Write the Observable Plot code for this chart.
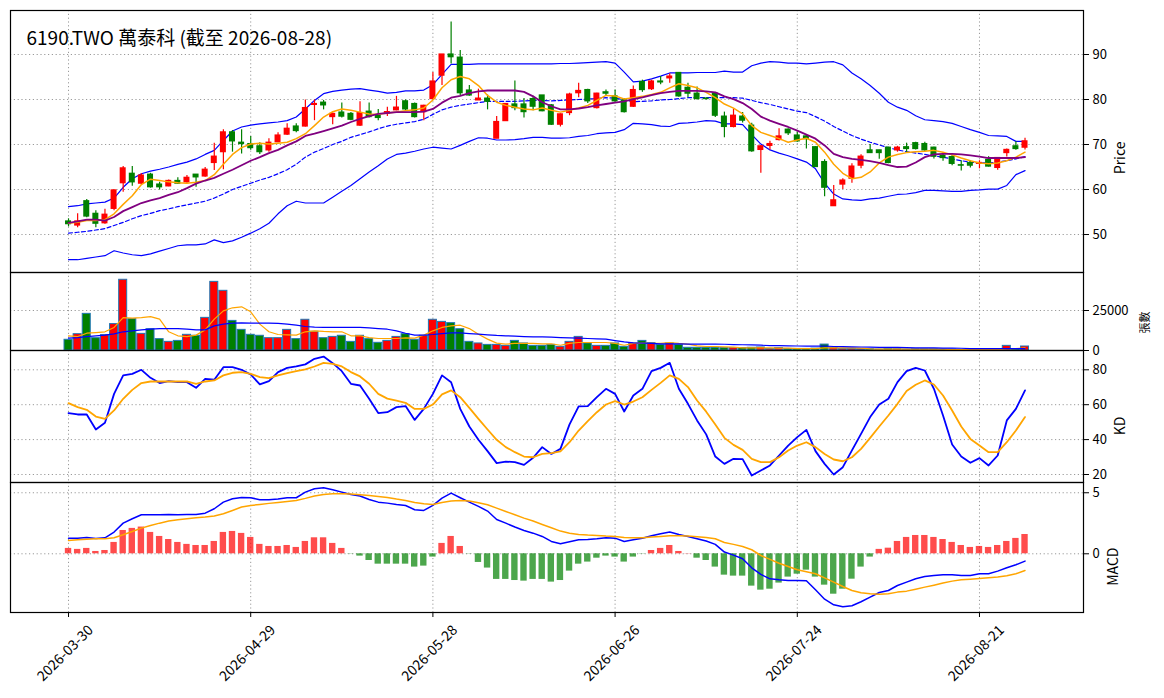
<!DOCTYPE html>
<html><head><meta charset="utf-8">
<script src="https://cdn.jsdelivr.net/npm/d3@7"></script>
<script src="https://cdn.jsdelivr.net/npm/@observablehq/plot@0.6"></script>
<style>
body{margin:0;background:#fff;}
#chart{position:relative;width:1164px;height:698px;background:#fff;}
#chart svg{position:absolute;left:0;overflow:visible;}
</style></head><body><div id="chart"></div>
<script>
// ---------- data ----------
const tickIdx = [0, 20, 40, 60, 80, 100];
const tickLabels = ["2026-03-30", "2026-04-29", "2026-05-28", "2026-06-26", "2026-07-24", "2026-08-21"];
const title = "6190.TWO 萬泰科 (截至 2026-08-28)";
const priceTicks = [50, 60, 70, 80, 90];
const volTicks = [0, 25000];
const kdTicks = [20, 40, 60, 80];
const macdTicks = [0, 5];

const open = [52.9,52.0,57.4,54.6,52.5,55.7,61.4,63.5,61.3,63.3, 61.1,60.7,61.9,61.6,63.3,62.9,65.9,68.3,72.7,70.4,
  70.1,69.6,68.7,70.5,72.2,74.0,74.0,78.8,79.3,76.1, 77.1,76.8,74.2,77.3,76.4,76.8,77.6,79.6,79.0,77.2,
  80.1,85.3,90.0,89.3,82.0,79.8,80.2,71.3,75.2,78.9, 78.9,80.1,80.9,78.7,74.4,77.0,81.4,82.1,78.1,81.6,
  80.7,79.8,78.4,83.9,82.3,84.0,84.7,85.9,82.6,81.3, 80.2,81.3,76.2,73.9,76.2,74.2,68.8,69.7,71.0,73.3,
  72.0,71.8,69.4,66.1,56.3,61.1,62.4,65.3,68.7,68.7, 69.3,68.7,69.4,70.3,70.1,69.3,67.5,67.2,65.4,65.9,
  65.7,66.6,64.8,68.1,69.6,69.3];
const high = [53.5,54.6,57.8,55.3,55.6,59.9,65.1,65.1,63.5,63.6, 61.6,62.1,62.6,63.1,63.3,64.9,70.3,73.3,73.1,73.3,
  71.8,70.4,71.3,72.6,74.6,74.6,79.9,79.9,79.8,77.0, 79.2,77.1,79.5,79.2,77.8,78.3,80.7,79.9,79.2,78.7,
  86.0,90.0,97.2,90.9,83.1,82.3,81.0,76.2,79.1,84.1, 80.2,80.7,80.9,78.9,76.8,81.4,83.6,82.3,81.4,82.1,
  82.1,80.2,83.0,84.3,84.3,85.1,85.7,86.0,83.6,82.8, 80.4,81.4,77.2,77.9,77.1,74.7,69.8,70.7,73.5,73.5,
  72.8,72.0,69.5,66.6,60.9,62.4,65.7,67.7,70.0,68.7, 69.4,69.6,70.3,70.5,70.5,69.4,68.1,67.6,66.4,66.4,
  66.4,67.3,67.1,69.0,70.6,71.4];
const low = [51.7,51.5,53.7,51.5,52.3,55.3,59.4,60.7,61.1,60.3, 59.9,60.6,61.1,61.4,60.5,62.7,64.2,64.4,68.3,67.9,
  68.7,67.8,68.3,70.4,72.0,72.6,73.9,75.3,77.7,74.4, 75.9,75.3,74.0,75.9,75.3,76.2,77.5,77.5,75.9,75.3,
  80.0,83.1,87.9,80.7,80.7,79.8,77.7,71.3,75.2,77.5, 75.9,77.5,77.3,74.2,73.9,76.4,80.4,79.1,77.9,80.8,
  79.4,77.0,78.2,81.6,82.0,83.3,83.6,80.5,80.4,79.9, 79.9,76.0,71.5,73.7,74.8,68.3,63.6,68.8,70.8,72.0,
  70.5,69.0,64.9,58.4,56.3,60.0,61.4,64.6,68.1,66.7, 65.7,68.3,68.1,68.8,68.5,66.8,66.3,65.3,64.1,64.8,
  64.6,65.0,64.3,67.2,68.7,68.8];
const close = [52.3,52.9,54.0,52.4,54.4,59.8,64.7,61.6,63.1,60.5, 60.5,61.9,61.3,62.6,62.7,64.4,67.3,72.7,70.7,70.1,
  69.2,68.3,70.4,72.0,73.5,73.0,78.1,79.0,78.7,76.8, 76.2,75.5,77.0,76.1,75.9,77.2,78.2,77.8,76.1,78.6,
  84.0,90.0,89.4,81.4,80.9,80.2,79.5,75.0,79.0,78.1, 77.2,78.4,77.4,74.4,76.7,81.1,81.9,79.6,81.3,81.3,
  79.6,77.2,82.1,82.1,84.0,83.8,85.1,80.7,81.3,80.1, 80.1,76.4,73.9,76.4,75.3,68.5,69.6,70.1,71.8,72.5,
  70.7,71.2,65.0,60.4,57.6,62.0,65.1,67.3,68.1,68.1, 65.9,69.3,69.0,69.0,68.7,67.3,67.0,65.7,65.3,65.3,
  65.9,65.1,67.0,68.8,69.0,70.7];
const bbUpper = [56.2,56.4,56.8,57.0,57.2,58.1,60.5,62.4,63.5,64.1, 64.5,65.0,65.6,66.1,66.8,67.8,68.7,70.9,73.0,73.9,
  74.3,74.6,74.8,75.0,75.3,76.1,77.9,79.8,81.3,81.8, 82.1,82.3,82.4,82.1,81.8,81.4,81.6,81.9,81.9,82.1,
  83.3,85.6,87.8,87.8,87.8,87.9,87.9,87.9,87.9,87.9, 87.9,87.9,87.9,87.9,88.0,88.0,88.1,88.2,88.3,88.4,
  88.1,86.1,83.9,84.1,84.6,85.2,85.9,85.9,85.9,86.0, 86.0,86.0,86.3,86.1,86.1,87.5,88.1,88.4,88.3,88.1,
  88.1,87.9,88.1,88.3,88.4,87.7,85.9,84.6,83.1,81.4, 79.4,78.3,77.6,76.4,75.5,75.3,75.1,74.7,74.0,73.3,
  72.7,72.0,71.9,71.8,70.7,70.7];
const bbMid = [50.3,50.5,50.7,51.0,51.3,52.0,52.7,53.5,54.2,54.7, 55.3,55.7,56.2,56.6,57.0,57.4,58.1,59.0,60.0,60.7,
  61.4,62.1,62.7,63.5,64.4,65.6,67.2,68.3,69.1,70.0, 70.7,71.6,72.2,72.8,73.5,74.1,74.5,74.8,75.1,75.6,
  76.7,77.7,78.3,78.7,79.0,79.3,79.6,79.6,79.6,79.6, 79.7,79.8,79.8,79.7,79.8,79.9,80.0,80.1,80.2,80.4,
  80.3,79.9,79.5,79.6,79.7,79.9,80.0,80.2,80.4,80.4, 80.4,80.4,80.4,80.4,80.3,79.8,79.3,78.9,78.4,77.9,
  77.4,77.1,76.2,75.2,74.0,73.0,72.0,71.2,70.5,69.9, 69.3,68.8,68.4,68.1,67.8,67.5,67.2,66.8,66.4,66.1,
  65.9,65.9,66.1,66.4,66.8,67.3];
const bbLower = [44.4,44.4,44.7,45.0,45.3,46.4,45.9,45.5,45.3,45.7, 46.3,46.9,47.5,47.7,47.7,47.9,48.8,48.2,48.6,49.4,
  50.3,51.3,52.5,54.6,56.4,57.4,57.0,57.0,57.0,58.3, 59.6,60.9,62.4,63.9,65.3,66.8,67.8,68.1,68.5,69.0,
  69.4,69.2,69.0,69.8,70.7,71.5,71.4,71.0,71.0,71.1, 71.3,71.6,71.6,71.4,71.4,71.5,71.8,72.0,72.4,72.6,
  72.7,73.3,74.7,74.6,74.4,74.1,74.0,74.7,74.8,75.0, 75.3,75.2,74.6,74.6,74.4,72.2,70.1,68.8,68.1,67.5,
  66.8,66.1,64.6,61.4,59.0,57.9,57.7,57.6,57.9,58.1, 58.5,58.9,59.0,59.3,59.8,59.8,59.7,59.6,59.6,59.8,
  59.9,60.1,60.1,60.9,63.3,64.2];
const ma5 = [52.5,52.7,53.1,53.1,53.3,54.6,56.7,58.6,61.1,62.3, 62.0,61.7,61.5,61.4,61.6,62.0,63.3,65.6,67.8,69.3,
  70.1,70.3,70.1,70.3,70.5,71.3,72.4,74.2,76.1,77.3, 77.9,77.6,77.2,76.8,76.7,77.0,77.2,77.5,77.7,78.1,
  79.9,82.6,84.4,85.1,84.6,83.1,80.9,79.4,78.7,78.3, 77.9,77.7,78.1,77.6,77.2,77.6,78.1,78.7,79.8,80.9,
  80.8,80.1,80.4,80.7,81.1,81.6,82.6,83.5,83.1,82.6, 81.6,80.4,79.0,78.1,76.8,74.2,72.7,72.0,71.3,70.5,
  71.0,71.4,70.5,68.3,65.6,63.6,62.4,62.7,63.9,65.9, 67.2,67.8,68.2,68.4,68.5,68.7,68.3,67.7,67.0,66.4,
  65.9,65.7,65.9,66.4,67.2,68.3];
const ma10 = [52.6,52.9,53.3,53.3,53.1,53.9,55.2,56.1,57.0,57.6, 58.1,58.8,59.4,60.3,61.3,62.0,62.6,63.5,64.4,65.4,
  66.4,67.2,68.1,68.8,69.8,70.7,71.9,72.4,73.0,73.6, 74.2,75.0,75.7,76.3,76.8,77.0,77.2,77.2,77.2,77.3,
  77.9,79.3,80.4,80.8,81.4,81.8,82.0,82.0,82.0,82.0, 81.7,80.7,79.4,78.5,77.8,77.8,78.0,78.3,78.7,79.0,
  79.3,79.6,80.1,80.5,81.0,81.4,81.7,81.9,81.9,81.9, 81.8,81.6,80.7,80.1,79.2,77.9,76.2,75.3,74.6,73.9,
  73.1,72.2,71.3,69.8,67.9,67.2,66.8,66.6,66.3,65.9, 65.4,65.0,65.1,66.0,67.2,67.8,67.9,67.9,67.8,67.6,
  67.3,67.0,67.0,67.0,67.0,67.2];
const volume = [6700,10200,22900,7700,9600,16500,44200,19600,10400,13300, 7100,5400,6000,9800,9200,20400,42900,37300,18500,12900,
  9800,9200,7700,7700,12900,7100,19200,11700,7700,8500, 9200,5400,9200,7100,4800,6000,8500,10200,6700,9200,
  19200,17900,17100,13300,5400,4400,3500,3500,2900,6000, 4400,2900,2900,3500,2300,5400,8500,4400,2900,2900,
  4400,2300,4400,6000,4600,3500,4400,3500,1700,1700, 1700,1700,1500,1500,1500,1700,1900,1000,1500,1000,
  1000,1000,1200,3700,1500,1000,1000,800,800,600, 1000,800,600,800,800,800,600,600,400,600,
  600,600,600,2900,800,2500];
const volMa5 = [9200,8700,10800,11200,11700,14400,20600,20200,20600,21200, 19600,11700,9200,8700,9600,12900,19600,24800,26700,27300,
  24200,16500,11700,10000,9800,9600,11700,12300,11900,11700, 11700,9200,9200,8100,7500,7500,7500,7900,7700,9600,
  12300,14400,15400,15800,13700,10200,7100,4600,4000,4400, 4400,4400,4200,4200,3300,4400,5000,5000,5000,5000,
  4400,3300,4400,4600,4400,4400,5000,4400,4000,2900, 2500,2500,2300,2100,1700,1700,1700,1700,1500,1500,
  1200,1200,1200,1700,1700,1700,1700,1500,1000,800, 800,800,800,800,800,800,800,600,600,600,
  600,600,600,1000,1200,1700];
const volMa10 = [7700,8100,8700,9200,9600,10400,11700,12300,12900,13300, 13700,13700,13700,13300,12900,12900,15400,16500,17100,17300,
  17100,17100,17100,16900,16500,15800,15000,14600,14400,14400, 14400,14400,14400,14200,13700,13300,12300,10800,9600,9600,
  10000,10600,11000,11000,10600,10200,9800,9400,9200,9000, 8700,8500,8500,8300,8100,7900,7700,7500,7300,7100,
  6200,5400,4800,4600,4400,4200,4200,4200,4000,4000, 4000,4000,3900,3700,3600,3500,3300,3100,3000,2900,
  2800,2700,2700,2700,2500,2400,2300,2200,2100,2000, 1900,1900,1800,1700,1700,1600,1500,1500,1400,1200,
  1200,1200,1200,1200,1200,1200];
const kLine = [55.2,54.4,54.4,45.8,49.6,66.2,76.8,77.7,80.0,75.4, 72.4,73.5,72.9,72.9,69.7,74.8,74.3,81.5,81.5,80.0,
  77.3,71.6,73.5,78.7,81.1,81.9,83.1,86.3,87.6,83.8, 79.2,72.0,71.0,63.4,55.2,55.7,58.6,59.2,51.3,57.6,
  66.2,76.8,72.9,57.6,47.5,39.9,33.4,26.5,27.4,27.1, 25.5,29.6,35.7,31.8,34.7,48.7,59.0,59.2,64.3,69.1,
  66.2,56.1,65.3,69.1,79.2,81.1,84.0,69.1,60.5,51.0, 43.0,30.3,26.1,29.0,28.8,19.4,22.3,25.2,30.9,36.6,
  41.4,45.6,33.4,26.1,20.0,24.2,33.8,43.3,52.9,60.1, 63.4,72.9,79.2,81.1,79.6,69.1,53.8,37.2,30.3,26.7,
  29.4,25.2,30.9,51.0,57.6,68.2];
const dLine = [60.9,58.6,57.1,53.2,51.9,56.7,63.4,68.5,72.4,73.3, 73.3,73.3,73.3,73.3,72.0,73.3,73.9,76.8,78.3,78.7,
  77.7,75.8,75.2,76.8,78.1,79.2,80.2,81.9,84.0,83.4, 81.9,78.7,76.2,72.0,66.2,63.5,62.4,61.1,57.6,57.6,
  60.1,65.9,68.2,64.3,58.2,51.9,45.8,39.9,35.7,32.8, 30.3,29.9,31.8,32.2,33.2,38.5,45.2,50.6,55.7,60.1,
  62.0,60.1,61.8,64.3,68.5,72.5,76.8,74.8,70.1,62.4, 56.0,48.7,41.0,37.0,34.1,29.0,27.1,27.1,29.9,33.8,
  36.6,38.5,35.7,31.8,28.6,27.6,29.9,34.7,41.0,47.5, 53.8,60.5,67.8,71.4,73.9,71.6,65.3,56.7,47.5,40.4,
  36.6,32.8,32.8,38.5,45.2,52.9];
const dif = [1.28,1.28,1.34,1.26,1.31,1.78,2.51,2.87,3.20,3.20, 3.20,3.22,3.20,3.22,3.22,3.33,3.69,4.23,4.51,4.62,
  4.59,4.43,4.43,4.48,4.59,4.59,5.05,5.33,5.41,5.25, 5.05,4.86,4.73,4.45,4.23,4.15,4.04,3.96,3.61,3.55,
  3.96,4.56,4.97,4.59,4.23,3.88,3.50,2.81,2.51,2.19, 1.91,1.69,1.42,1.01,0.82,0.98,1.15,1.17,1.23,1.31,
  1.28,1.01,1.15,1.28,1.48,1.64,1.78,1.58,1.42,1.23, 1.05,0.77,0.14,-0.11,-0.41,-1.15,-1.69,-2.05,-2.13,-2.19,
  -2.19,-2.21,-2.95,-3.72,-4.18,-4.34,-4.26,-3.93,-3.55,-3.17, -3.01,-2.60,-2.32,-2.05,-1.86,-1.78,-1.72,-1.72,-1.78,-1.78,
  -1.64,-1.64,-1.42,-1.15,-0.90,-0.60];
const dea = [1.09,1.15,1.20,1.23,1.23,1.31,1.56,1.83,2.10,2.32, 2.51,2.68,2.79,2.87,2.95,3.01,3.09,3.28,3.55,3.83,
  3.96,4.04,4.13,4.21,4.29,4.37,4.54,4.73,4.86,4.92, 4.92,4.89,4.84,4.78,4.70,4.62,4.48,4.37,4.21,4.10,
  4.04,4.21,4.32,4.37,4.32,4.18,4.02,3.74,3.47,3.20, 2.92,2.68,2.40,2.13,1.86,1.69,1.58,1.53,1.50,1.45,
  1.42,1.34,1.31,1.31,1.37,1.42,1.48,1.48,1.45,1.39, 1.34,1.23,0.93,0.77,0.60,0.33,-0.14,-0.46,-0.77,-1.04,
  -1.31,-1.48,-1.64,-1.97,-2.32,-2.68,-3.01,-3.20,-3.28,-3.31, -3.28,-3.14,-3.06,-2.90,-2.73,-2.57,-2.40,-2.24,-2.13,-2.08,
  -2.02,-1.97,-1.91,-1.80,-1.64,-1.37];
const hist = [0.44,0.36,0.44,0.19,0.27,0.93,1.91,2.08,2.19,1.75, 1.42,1.17,0.93,0.77,0.68,0.68,1.01,1.75,1.83,1.67,
  1.34,0.77,0.60,0.60,0.68,0.52,1.01,1.31,1.31,0.85, 0.44,-0.02,-0.19,-0.55,-0.85,-0.85,-0.85,-0.85,-1.09,-1.01,
  -0.27,0.85,1.42,0.60,-0.02,-0.71,-1.17,-2.10,-2.10,-2.19, -2.24,-2.10,-2.10,-2.32,-2.19,-1.42,-0.85,-0.68,-0.36,-0.19,
  -0.27,-0.68,-0.27,-0.02,0.27,0.44,0.68,0.19,0.02,-0.36, -0.55,-1.09,-1.75,-1.83,-1.83,-2.65,-2.98,-2.90,-2.40,-1.91,
  -1.67,-1.34,-1.91,-2.57,-3.31,-2.90,-2.08,-1.09,-0.27,0.36, 0.46,1.01,1.34,1.50,1.50,1.34,1.17,0.93,0.68,0.52,
  0.60,0.52,0.68,1.01,1.26,1.58];

// ---------- build ----------
const rows = open.map((o, i) => ({
  i, o, h: high[i], l: low[i], c: close[i], v: volume[i],
  up: bbUpper[i], mid: bbMid[i], lo: bbLower[i], ma5: ma5[i], ma10: ma10[i],
  vm5: volMa5[i], vm10: volMa10[i], k: kLine[i], d: dLine[i],
  dif: dif[i], dea: dea[i], hist: hist[i]
}));
const candleColor = r => (r.c >= r.o ? "#ff0000" : "#008000");

const W = 1164, ML = 10, MR = 81;
const xDomain = [-6.37, 111.42];
const FONT = '"Noto Sans CJK TC", "Noto Sans", sans-serif';
const style = {fontFamily: FONT, fontSize: "13px", background: "transparent", overflow: "visible", color: "black"};
const grid = {stroke: "#9a9a9a", strokeOpacity: 1, strokeDasharray: "1.2,2.6", strokeWidth: 1};
const frame = Plot.frame({stroke: "black", strokeWidth: 1.2});
const yAxis = (ticks, fmt) => Plot.axisY(ticks, {anchor: "right", tickSize: 5, tickPadding: 4, label: null, fontSize: 13, tickFormat: fmt || (d => String(d))});
const yLabel = (t, dx, size) => Plot.text([t], {frameAnchor: "right", dx, rotate: -90, fontSize: size || 14, fill: "black"});

const chart = document.getElementById("chart");
function place(plot, top) { plot.style.top = top + "px"; chart.appendChild(plot); }

// Price panel
place(Plot.plot({
  width: W, height: 272, marginLeft: ML, marginRight: MR, marginTop: 10, marginBottom: 0, style,
  x: {domain: xDomain, axis: null},
  y: {domain: [41.56, 99.78]},
  marks: [
    Plot.gridX(tickIdx, grid),
    Plot.gridY(priceTicks, grid),
    Plot.line(rows, {x: "i", y: "up", stroke: "#0000ff", strokeWidth: 1.2}),
    Plot.line(rows, {x: "i", y: "lo", stroke: "#0000ff", strokeWidth: 1.2}),
    Plot.line(rows, {x: "i", y: "mid", stroke: "#0000ff", strokeWidth: 1.2, strokeDasharray: "4,2.5"}),
    Plot.ruleX(rows, {x: "i", y1: "l", y2: "h", stroke: candleColor, strokeWidth: 1.2}),
    Plot.rect(rows, {x1: r => r.i - 0.33, x2: r => r.i + 0.33, y1: "o", y2: "c", fill: candleColor, insetTop: -0.6, insetBottom: -0.6}),
    Plot.line(rows, {x: "i", y: "ma5", stroke: "#ffa500", strokeWidth: 1.5}),
    Plot.line(rows, {x: "i", y: "ma10", stroke: "#800080", strokeWidth: 1.8}),
    yAxis(priceTicks),
    yLabel("Price", 37),
    Plot.text([title], {frameAnchor: "top-left", dx: 16, dy: 21, textAnchor: "start", fontSize: 19, fill: "black"}),
    frame
  ]
}), 0);

// Volume panel
place(Plot.plot({
  width: W, height: 78, marginLeft: ML, marginRight: MR, marginTop: 0, marginBottom: 0, style,
  x: {domain: xDomain, axis: null},
  y: {domain: [0, 48750]},
  marks: [
    Plot.gridX(tickIdx, grid),
    Plot.gridY(volTicks, grid),
    Plot.rect(rows, {x1: r => r.i - 0.44, x2: r => r.i + 0.44, y1: 0, y2: "v", fill: candleColor, stroke: "#1f77b4", strokeWidth: 1}),
    Plot.line(rows, {x: "i", y: "vm5", stroke: "#ffa500", strokeWidth: 1.2}),
    Plot.line(rows, {x: "i", y: "vm10", stroke: "#0000ff", strokeWidth: 1.2}),
    yAxis(volTicks),
    yLabel("張數", 62, 11),
    frame
  ]
}), 272);

// KD panel
place(Plot.plot({
  width: W, height: 132, marginLeft: ML, marginRight: MR, marginTop: 0, marginBottom: 0, style,
  x: {domain: xDomain, axis: null},
  y: {domain: [15.42, 91.06]},
  marks: [
    Plot.gridX(tickIdx, grid),
    Plot.gridY(kdTicks, grid),
    Plot.line(rows, {x: "i", y: "k", stroke: "#0000ff", strokeWidth: 1.8}),
    Plot.line(rows, {x: "i", y: "d", stroke: "#ffa500", strokeWidth: 1.8}),
    yAxis(kdTicks),
    yLabel("KD", 37),
    frame
  ]
}), 350);

// MACD panel
place(Plot.plot({
  width: W, height: 216, marginLeft: ML, marginRight: MR, marginTop: 0, marginBottom: 86, style,
  x: {domain: xDomain},
  y: {domain: [-4.81, 5.84]},
  marks: [
    Plot.gridX(tickIdx, grid),
    Plot.gridY(macdTicks, grid),
    Plot.rect(rows, {x1: r => r.i - 0.35, x2: r => r.i + 0.35, y1: 0, y2: "hist", fill: r => (r.hist >= 0 ? "#ff0000" : "#008000"), fillOpacity: 0.7}),
    Plot.line(rows, {x: "i", y: "dif", stroke: "#0000ff", strokeWidth: 1.5}),
    Plot.line(rows, {x: "i", y: "dea", stroke: "#ffa500", strokeWidth: 1.5}),
    yAxis(macdTicks),
    yLabel("MACD", 30),
    Plot.axisX(tickIdx, {tickSize: 5, tickFormat: () => "", label: null}),
    Plot.text(tickIdx, {x: d => d, text: d => tickLabels[tickIdx.indexOf(d)], frameAnchor: "bottom", dy: 44, rotate: -45, textAnchor: "middle", fontSize: 14, fill: "black"}),
    frame
  ]
}), 482);
</script></body></html>
